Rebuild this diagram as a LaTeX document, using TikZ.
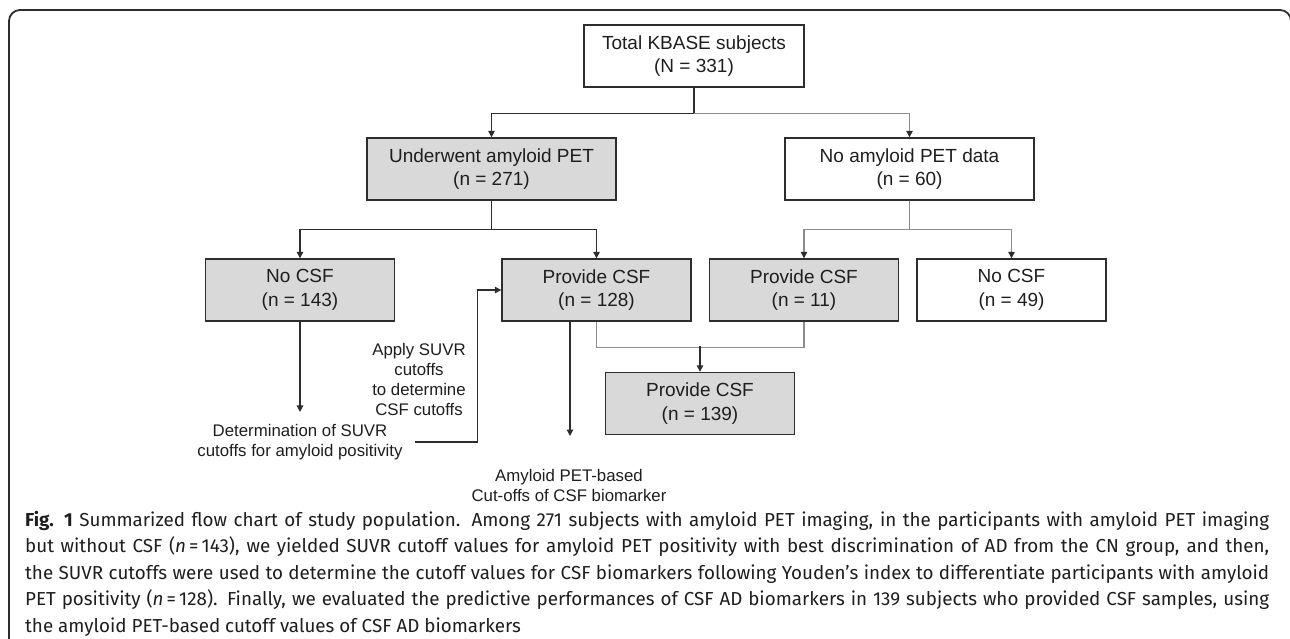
\documentclass[tikz,border=0pt]{standalone}
\usepackage{fontspec}
\setmainfont{Liberation Sans}
\newfontfamily\capfont{Fira Sans}
\usetikzlibrary{positioning,arrows.meta}
\definecolor{boxgray}{RGB}{217,217,217}
\definecolor{linedark}{RGB}{45,45,45}
\definecolor{linegray}{RGB}{140,140,140}
\definecolor{textdark}{RGB}{30,30,30}

\begin{document}
\begin{tikzpicture}[x=1pt,y=-1pt,on grid,
		>={Triangle[length=6.5pt,width=6.5pt,color=linedark]},
		box/.style={draw=linedark,line width=1.4pt,align=center,text=textdark,minimum height=62pt,font=\fontsize{19}{23.5}\selectfont},
		filled/.style={box,fill=boxgray},
		note/.style={align=center,text=textdark,inner sep=0pt,font=\fontsize{16.8}{20}\selectfont},
		dark/.style={draw=linedark,line width=1.3pt},
		light/.style={draw=linegray,line width=1.3pt}]
	\useasboundingbox (0,0) rectangle (1290,639);
	\draw[linedark,line width=1.8pt,rounded corners=11pt] (9,660) |- (1291,10) -- (1291,660);

	\node[box,minimum width=220pt] (tot) at (694,56) {Total KBASE subjects\\(N = 331)};
	\node[filled,minimum width=249pt] (pet_1) [below left=113pt and 202.5pt of tot] {Underwent amyloid PET\\(n = 271)};
	\node[box,minimum width=249pt] (pet_0) [below right=113pt and 215.5pt of tot] {No amyloid PET data\\(n = 60)};
	\node[filled,minimum width=189pt] (csf_143) [below left=121pt and 191.5pt of pet_1] {No CSF\\(n = 143)};
	\node[filled,minimum width=189pt] (csf_128) [below right=121pt and 105pt of pet_1] {Provide CSF\\(n = 128)};
	\node[filled,minimum width=189pt] (csf_11) [below left=121pt and 105.5pt of pet_0] {Provide CSF\\(n = 11)};
	\node[box,minimum width=189pt] (csf_49) [below right=121pt and 102pt of pet_0] {No CSF\\(n = 49)};
	\node[filled,minimum width=189pt] (csf_139) [below right=113.5pt and 103.5pt of csf_128] {Provide CSF\\(n = 139)};

	\node[note,inner xsep=12pt] (suvr) [below=152pt of csf_143] {Determination of SUVR\\cutoffs for amyloid positivity};
	\node[note] (apply) [below left=89pt and 177.5pt of csf_128] {Apply SUVR\\cutoffs\\to determine\\CSF cutoffs};
	\node[note] (based) [below left=195pt and 27.5pt of csf_128] {Amyloid PET-based\\Cut-offs of CSF biomarker};
	\coordinate (based_in) at (570,436);

	\draw[dark,->] (tot.south) -- ++(0,26) -| (pet_1.north);
	\draw[light,->] (tot.south) ++(0,26) -| (pet_0.north);
	\draw[dark,->] (pet_1.south) -- ++(0,29) -| (csf_143.north);
	\draw[dark,->] (pet_1.south) -- ++(0,29) -| (csf_128.north);
	\draw[light,->] (pet_0.south) -- ++(0,29) -| (csf_11.north);
	\draw[light,->] (pet_0.south) -- ++(0,29) -| (csf_49.north);
	\draw[light] (csf_128.south) -- ++(0,26) -| (csf_11.south);
	\draw[dark,->] (csf_139.north) ++(0,-26) -- (csf_139.north);
	\draw[dark,->,shorten >=12pt] (csf_143) -- (suvr);
	\draw[dark,->] (suvr.east) -- ++(63,0) |- (csf_128.west);
	\draw[dark,->] (csf_128.south -| based_in) -- (based_in);

	\node[anchor=north west,inner sep=0pt,text width=1244pt,align=justify,text=textdark,font=\capfont\fontsize{18.8}{26.5}\selectfont] (cap) at (25,511) {\hyphenpenalty=10000 \textbf{Fig. 1} Summarized flow chart of study population. Among 271 subjects with amyloid PET imaging, in the participants with amyloid PET imaging\linebreak but without CSF (\textit{n}\,=\,143), we yielded SUVR cutoff values for amyloid PET positivity with best discrimination of AD from the CN group, and then,\linebreak the SUVR cutoffs were used to determine the cutoff values for CSF biomarkers following Youden’s index to differentiate participants with amyloid\linebreak PET positivity (\textit{n}\,=\,128). Finally, we evaluated the predictive performances of CSF AD biomarkers in 139 subjects who provided CSF samples, using\linebreak the amyloid PET-based cutoff values of CSF AD biomarkers};
\end{tikzpicture}
\end{document}
